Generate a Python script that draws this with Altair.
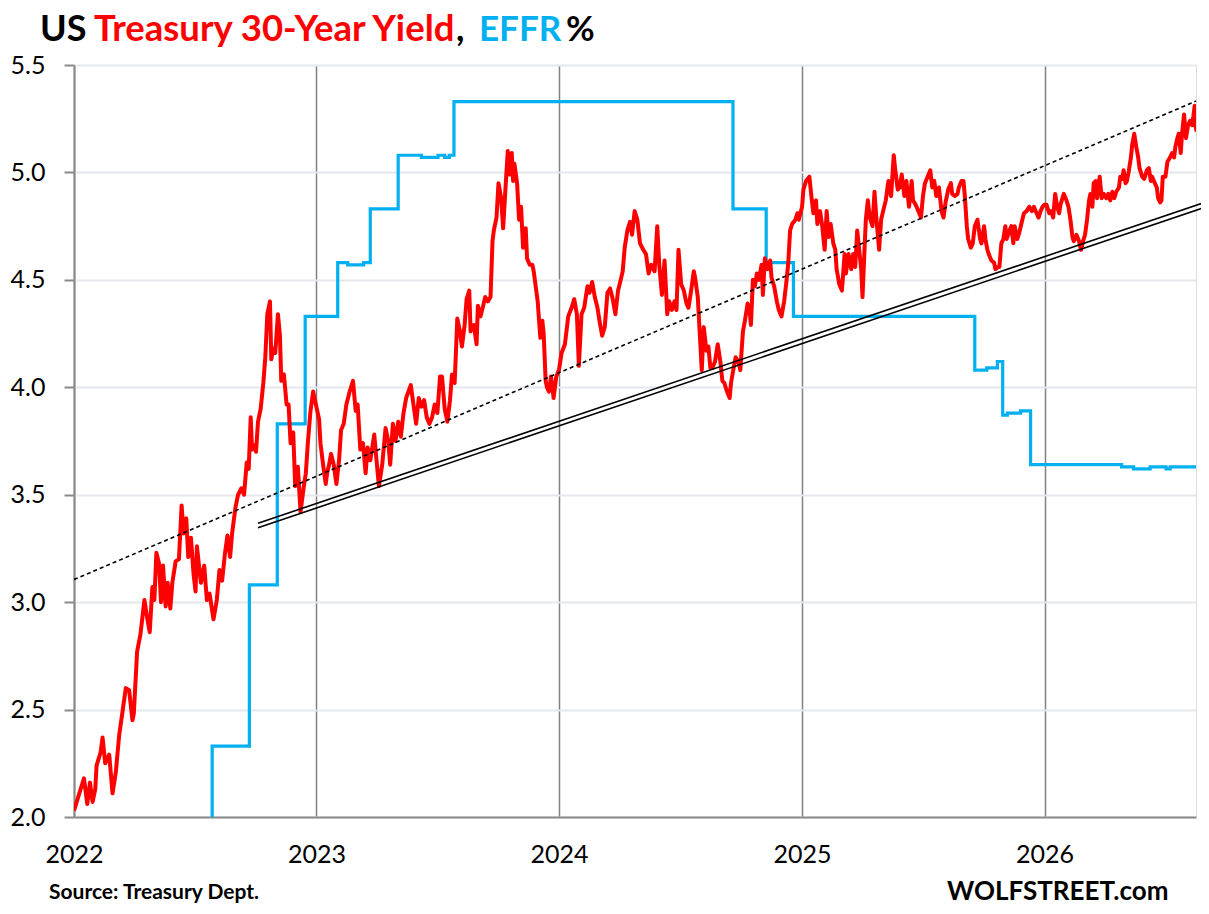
import altair as alt
import pandas as pd

# ---- 30-year Treasury yield (fraction of year, %)
y2022_f = [0.000,0.021,0.041,0.055,0.066,0.076,0.089,0.093,0.110,0.117,0.130,0.144,0.158,0.172,0.185,0.199,0.213,0.227,0.240,0.247,
           0.261,0.275,0.282,0.291,0.302,0.313,0.323,0.332,0.341,0.350,0.360,0.368,0.378,0.387,0.396,0.405,0.419,0.433,0.444,0.453,
           0.463,0.471,0.481,0.492,0.501,0.508,0.522,0.536,0.547,0.560,0.574,0.588,0.600,0.611,0.622,0.632,0.643,0.652,0.666,0.677,
           0.690,0.701,0.712,0.721,0.728,0.735,0.742,0.751,0.758,0.769,0.780,0.790,0.797,0.808,0.815,0.821,0.831,0.841,0.849,0.856,
           0.865,0.876,0.886,0.893,0.904,0.913,0.924,0.934,0.948,0.955,0.964,0.975,0.986]
y2022_v = [2.03,2.11,2.18,2.06,2.16,2.07,2.13,2.24,2.30,2.37,2.25,2.29,2.11,2.21,2.38,2.49,2.60,2.59,2.45,2.48,
           2.77,2.85,2.93,3.01,2.93,2.86,3.07,3.01,3.23,3.18,3.00,3.17,2.98,3.09,2.97,3.09,3.19,3.20,3.45,3.32,
           3.39,3.21,3.30,3.13,3.05,3.26,3.09,3.17,3.01,3.04,2.92,3.01,3.15,3.10,3.22,3.31,3.21,3.32,3.44,3.50,
           3.53,3.50,3.65,3.62,3.86,3.71,3.73,3.70,3.84,3.90,4.02,4.14,4.34,4.40,4.13,4.18,4.16,4.34,4.24,4.03,
           4.06,3.92,3.92,3.74,3.79,3.54,3.63,3.42,3.54,3.60,3.74,3.89,3.98]

y2023_f = [0.010,0.017,0.028,0.037,0.044,0.051,0.061,0.072,0.083,0.092,0.102,0.113,0.124,0.138,0.151,0.161,0.171,0.182,0.193,0.202,
           0.212,0.223,0.237,0.248,0.257,0.271,0.285,0.296,0.305,0.316,0.326,0.336,0.347,0.358,0.371,0.388,0.399,0.410,0.421,0.432,
           0.443,0.454,0.465,0.476,0.487,0.498,0.509,0.519,0.528,0.539,0.550,0.560,0.569,0.580,0.591,0.601,0.611,0.619,0.629,0.635,
           0.649,0.659,0.666,0.677,0.688,0.697,0.707,0.718,0.725,0.732,0.743,0.752,0.762,0.770,0.780,0.790,0.798,0.805,0.812,0.817,
           0.828,0.835,0.845,0.853,0.862,0.869,0.880,0.890,0.897,0.911,0.922,0.931,0.938,0.945,0.952,0.960,0.968,0.979,0.990]
y2023_v = [3.85,3.74,3.64,3.55,3.60,3.64,3.69,3.64,3.55,3.66,3.80,3.83,3.92,3.98,4.03,3.89,3.92,3.71,3.74,3.60,
           3.72,3.66,3.78,3.64,3.54,3.64,3.81,3.75,3.64,3.83,3.75,3.84,3.77,3.88,3.95,4.01,3.92,3.83,3.95,3.91,
           3.94,3.86,3.83,3.86,3.92,3.88,4.05,4.05,3.90,3.84,3.94,4.06,4.02,4.32,4.26,4.19,4.29,4.41,4.45,4.26,
           4.29,4.20,4.38,4.33,4.38,4.42,4.40,4.42,4.68,4.73,4.79,4.95,4.88,4.74,4.95,5.10,4.99,5.09,4.96,5.04,
           4.95,4.78,4.84,4.65,4.74,4.60,4.57,4.57,4.54,4.40,4.23,4.31,4.25,4.03,4.00,3.98,4.05,3.95,4.05]

y2024_f = [0.000,0.011,0.025,0.038,0.052,0.063,0.073,0.082,0.093,0.104,0.118,0.127,0.138,0.148,0.159,0.168,0.178,0.189,0.200,0.212,
           0.223,0.233,0.244,0.255,0.264,0.271,0.282,0.292,0.301,0.312,0.323,0.333,0.347,0.360,0.370,0.381,0.395,0.405,0.415,0.425,
           0.436,0.447,0.456,0.466,0.477,0.484,0.493,0.504,0.515,0.525,0.534,0.545,0.556,0.562,0.573,0.582,0.589,0.597,0.607,0.616,
           0.625,0.634,0.644,0.655,0.666,0.673,0.682,0.693,0.704,0.710,0.721,0.730,0.741,0.748,0.758,0.767,0.778,0.786,0.792,0.799,
           0.808,0.816,0.826,0.836,0.842,0.849,0.860,0.870,0.878,0.888,0.899,0.908,0.919,0.929,0.937,0.945,0.953,0.963,0.974,0.984,
           0.990]
y2024_v = [4.08,4.16,4.20,4.33,4.37,4.41,4.34,4.10,4.34,4.37,4.47,4.44,4.49,4.42,4.37,4.31,4.24,4.28,4.44,4.46,
           4.41,4.34,4.45,4.50,4.54,4.65,4.73,4.77,4.71,4.82,4.78,4.67,4.64,4.62,4.53,4.57,4.54,4.75,4.57,4.43,
           4.59,4.34,4.40,4.36,4.40,4.36,4.64,4.48,4.45,4.39,4.37,4.45,4.54,4.51,4.42,4.25,4.08,4.28,4.17,4.19,
           4.09,4.09,4.12,4.20,4.12,4.03,4.02,3.98,3.95,4.02,4.09,4.14,4.12,4.08,4.26,4.31,4.39,4.36,4.29,4.50,
           4.47,4.53,4.50,4.57,4.43,4.60,4.55,4.59,4.51,4.47,4.40,4.36,4.33,4.40,4.48,4.57,4.73,4.76,4.78,4.81,
           4.78]

y2025_f = [0.000,0.005,0.016,0.030,0.037,0.047,0.058,0.064,0.074,0.082,0.092,0.102,0.110,0.119,0.129,0.137,0.143,0.154,0.165,0.174,
           0.181,0.192,0.202,0.211,0.219,0.228,0.236,0.243,0.250,0.257,0.263,0.270,0.280,0.291,0.299,0.307,0.318,0.326,0.335,0.346,
           0.357,0.366,0.377,0.384,0.394,0.403,0.412,0.421,0.431,0.442,0.451,0.458,0.469,0.480,0.490,0.499,0.508,0.517,0.528,0.538,
           0.545,0.554,0.565,0.575,0.583,0.593,0.604,0.613,0.620,0.630,0.641,0.647,0.658,0.665,0.672,0.679,0.686,0.695,0.705,0.713,
           0.723,0.733,0.741,0.750,0.757,0.764,0.771,0.782,0.792,0.798,0.807,0.815,0.823,0.829,0.837,0.844,0.853,0.864,0.870,0.878,
           0.888,0.897,0.905,0.915,0.926,0.936,0.947,0.956,0.966,0.974,0.984,0.993]
y2025_v = [4.84,4.92,4.96,4.98,4.89,4.81,4.87,4.76,4.82,4.76,4.64,4.82,4.70,4.76,4.67,4.64,4.55,4.48,4.45,4.62,
           4.53,4.62,4.55,4.62,4.56,4.73,4.64,4.55,4.42,4.64,4.78,4.87,4.79,4.75,4.91,4.78,4.64,4.78,4.82,4.87,
           4.96,4.89,5.08,5.02,4.92,4.93,4.99,4.89,4.96,4.84,4.96,4.87,4.85,4.82,4.79,4.89,4.95,4.98,5.01,4.93,
           4.96,4.89,4.93,4.82,4.79,4.86,4.92,4.95,4.90,4.89,4.90,4.93,4.96,4.96,4.89,4.75,4.69,4.65,4.67,4.75,
           4.78,4.69,4.67,4.75,4.69,4.64,4.62,4.59,4.58,4.55,4.56,4.56,4.67,4.69,4.75,4.69,4.72,4.75,4.67,4.75,
           4.69,4.72,4.76,4.81,4.82,4.84,4.82,4.84,4.81,4.79,4.82,4.84]

y2026_f = [0.000,0.008,0.018,0.027,0.036,0.045,0.052,0.059,0.066,0.073,0.080,0.091,0.100,0.107,0.114,0.121,0.132,0.142,0.151,0.159,
           0.166,0.176,0.183,0.190,0.197,0.203,0.210,0.217,0.227,0.235,0.245,0.254,0.263,0.272,0.279,0.289,0.297,0.307,0.313,0.320,
           0.327,0.334,0.341,0.348,0.355,0.362,0.371,0.378,0.385,0.393,0.403,0.412,0.421,0.429,0.437,0.445,0.454,0.462,0.469,0.476,
           0.482,0.489,0.498,0.506,0.517,0.526,0.533,0.540,0.547,0.554,0.561,0.568,0.575,0.583,0.591,0.599,0.608,0.613,0.619,0.623,
           0.627]
y2026_v = [4.85,4.85,4.81,4.82,4.79,4.90,4.84,4.81,4.85,4.88,4.90,4.87,4.84,4.78,4.70,4.68,4.71,4.68,4.64,4.68,
           4.71,4.78,4.87,4.90,4.84,4.95,4.96,4.88,4.98,4.88,4.90,4.88,4.90,4.87,4.91,4.88,4.91,4.93,4.98,4.97,
           5.01,4.95,4.96,5.01,5.07,5.13,5.18,5.12,5.07,5.02,4.98,4.97,5.01,5.02,4.96,4.98,4.95,4.93,4.88,4.86,
           4.87,4.98,4.98,5.05,5.07,5.09,5.07,5.12,5.16,5.18,5.09,5.18,5.27,5.16,5.22,5.24,5.22,5.26,5.31,5.22,
           5.19]

# ---- Effective Fed Funds Rate (change dates, %)
effr_dates = ["2022-01-01","2022-03-17","2022-05-05","2022-06-16","2022-07-28","2022-09-22","2022-11-03","2022-12-15",
              "2023-02-02","2023-02-17","2023-03-13","2023-03-23","2023-05-04","2023-06-08","2023-07-03","2023-07-13",
              "2023-07-20","2023-07-27","2024-09-19","2024-11-08","2024-12-19","2025-09-18","2025-10-06","2025-10-22",
              "2025-10-30","2025-11-06","2025-11-26","2025-12-11","2026-04-27","2026-05-15","2026-06-09","2026-07-03",
              "2026-07-09","2026-08-17"]
effr_vals = [0.08,0.33,0.83,1.58,2.33,3.08,3.83,4.33,
             4.58,4.57,4.58,4.83,5.08,5.07,5.08,5.07,
             5.08,5.33,4.83,4.58,4.33,4.08,4.09,4.12,
             3.87,3.88,3.89,3.64,3.63,3.62,3.63,3.62,
             3.63,3.63]

# ---- trend lines
dash_dates = ["2022-01-01", "2026-08-17"]
dash_vals = [3.105, 5.332]
dbl_dates = ["2022-10-05", "2026-09-06"]
dbl_upper = [3.367, 4.868]
dbl_lower = [3.346, 4.845]

year_ticks = [2022, 2023, 2024, 2025, 2026]
y_ticks = [2.0, 2.5, 3.0, 3.5, 4.0, 4.5, 5.0, 5.5]

# ---- build tables
rows = []
for yr, fs, vs in [(2022, y2022_f, y2022_v), (2023, y2023_f, y2023_v), (2024, y2024_f, y2024_v),
                   (2025, y2025_f, y2025_v), (2026, y2026_f, y2026_v)]:
    for f, v in zip(fs, vs):
        d = pd.Timestamp(f"{yr}-01-01") + pd.Timedelta(days=round(f * 365))
        rows.append({"date": d.strftime("%Y-%m-%dT00:00:00"), "v": v})
red_df = pd.DataFrame(rows)
effr_df = pd.DataFrame({"date": [d + "T00:00:00" for d in effr_dates], "v": effr_vals})
dash_df = pd.DataFrame({"date": [d + "T00:00:00" for d in dash_dates], "v": dash_vals})
dbl_df = pd.DataFrame({"date": [d + "T00:00:00" for d in dbl_dates] * 2,
                       "v": dbl_upper + dbl_lower, "k": ["u", "u", "l", "l"]})

xscale = alt.Scale(domain=[alt.DateTime(year=2022, month=1, date=1),
                           alt.DateTime(year=2026, month=8, date=17)])
yscale = alt.Scale(domain=[2.0, 5.5], nice=False, zero=False)

xaxis = alt.Axis(values=[alt.DateTime(year=y, month=1, date=1) for y in year_ticks], format="%Y",
                 title=None, grid=True, gridColor="#808080", gridWidth=1.5, ticks=False,
                 labelPadding=25, labelFontSize=25, labelFont="Lato", labelColor="#000000",
                 labelFlush=False, labelAngle=0, domainColor="#8a8a8a", domainWidth=2, labelOverlap=False)
yaxis = alt.Axis(values=y_ticks, format=".1f", title=None, grid=True, gridColor="#e4e7eb", gridWidth=2,
                 tickColor="#8a8a8a", tickSize=10, tickWidth=2, labelPadding=19, labelFontSize=25,
                 labelFont="Lato", labelColor="#000000", domainColor="#8a8a8a", domainWidth=2)

X = alt.X("date:T", scale=xscale, axis=xaxis)
Y = alt.Y("v:Q", scale=yscale, axis=yaxis)

blue = alt.Chart(effr_df).mark_line(interpolate="step-after", color="#00b0f0", strokeWidth=3.2,
                                    clip=True).encode(x=X, y=Y)
red = alt.Chart(red_df).mark_line(color="#ff0000", strokeWidth=4, clip=True,
                                  strokeJoin="round").encode(x=X, y=Y)
dashed = alt.Chart(dash_df).mark_line(color="#000000", strokeWidth=1.6, strokeDash=[4, 3]).encode(x=X, y=Y)
double = alt.Chart(dbl_df).mark_line(color="#000000", strokeWidth=1.6).encode(x=X, y=Y, detail="k:N")


def txt(s, x, y, size, color, weight="bold"):
    return alt.Chart(pd.DataFrame({"t": [s]})).mark_text(
        align="left", baseline="alphabetic", font="Lato", fontSize=size, fontWeight=weight, color=color
    ).encode(x=alt.value(x), y=alt.value(y), text="t:N")


title_parts = [
    txt("US", -34, -24, 36, "#000000"),
    txt("Treasury 30-Year Yield", 20, -24, 36.5, "#ff0000"),
    txt(",", 382, -24, 36, "#000000"),
    txt("EFFR", 405, -24, 35, "#00b0f0"),
    txt("%", 492, -24, 35, "#000000"),
    txt("Source: Treasury Dept.", -25, 834, 21, "#000000"),
    txt("WOLFSTREET.com", 873, 835, 26, "#000000"),
]

chart = alt.layer(blue, red, dashed, double, *title_parts).properties(
    width=1122, height=752,
    autosize=alt.AutoSizeParams(type="none"),
    padding={"left": 66, "top": 57, "right": 5, "bottom": 88},
).configure_view(stroke=None).configure(background="white")

chart.save("out.html", embed_options={"renderer": "svg", "actions": False})
